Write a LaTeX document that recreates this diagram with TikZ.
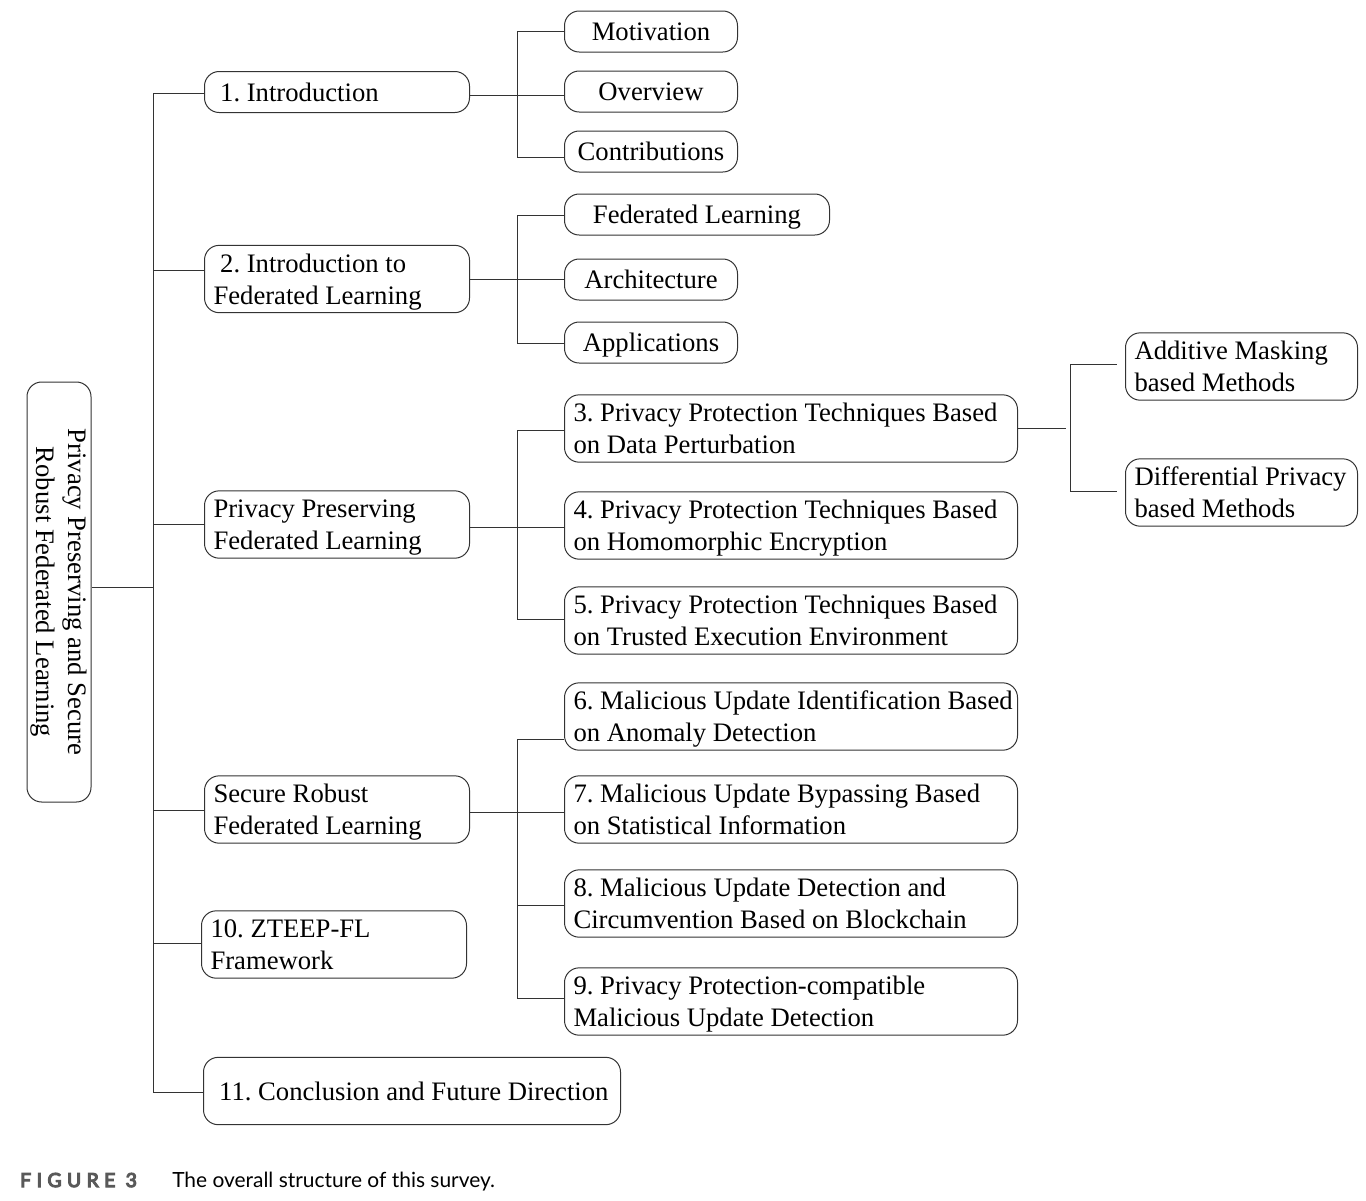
\documentclass[tikz,border=0pt]{standalone}
\usepackage{fontspec}
\setmainfont{Liberation Serif}
\newfontfamily\capfont{Lato}
\newfontfamily\caplabelfont[LetterSpace=28, FakeBold=6]{Lato}

\definecolor{linegray}{HTML}{333333}
\definecolor{capgray}{HTML}{595959}

% 行高支撑：使各框文字基线一致
\newcommand\boxstrut{\rule[-4.4pt]{0pt}{22.4pt}}

\tikzset{
  secbox/.style={draw=linegray, line width=0.75pt, rounded corners=11pt,
    anchor=west, align=left, inner xsep=6.75pt, inner ysep=0pt,
    font=\fontsize{20}{24}\selectfont,
    execute at begin node={\frenchspacing\spaceskip=5pt plus 1pt minus 0.5pt\boxstrut},
    execute at end node={\boxstrut}},
  onerow/.style={secbox, minimum height=30.75pt, text height=14pt, text depth=0pt},
  tworow/.style={secbox, minimum height=50.5pt},
  part/.style={tworow, text width=185.25pt},
  sub/.style={onerow, align=center, minimum width=129.75pt},
  tech/.style={tworow, text width=326.25pt},
  leaf/.style={tworow, text width=160.5pt},
  rootbox/.style={draw=linegray, line width=0.75pt, rounded corners=11pt,
    rotate=-90, align=center, inner sep=0pt, minimum width=315pt, minimum height=48pt,
    font=\fontsize{20}{24}\selectfont},
  link/.style={draw=linegray, line width=0.75pt},
}

\begin{document}
\begin{tikzpicture}[x=0.75pt, y=-0.75pt]
  % 画布按像素换算（1px = 0.75pt，y 向下）
  \useasboundingbox (0,0) rectangle (1366,1200);

  % 根节点（竖排文字）
  \node[rootbox] (root) at (59,592) {Privacy Preserving and Secure\\Robust Federated Learning};

  % 第一层章节
  \node[onerow, text width=185.25pt] (intro) at (204,92) {\hspace*{5pt}1. Introduction};
  \node[part] (flintro) at (204,279) {\hspace*{5pt}2. Introduction to\\Federated Learning};
  \node[part] (ppfl) at (204,524.5) {Privacy Preserving\\Federated Learning};
  \node[part] (srfl) at (204,809.5) {Secure Robust\\Federated Learning};
  \node[part] (zteep) at (201,944.5) {10. ZTEEP-FL\\Framework};
  \node[onerow, minimum height=50.5pt, text width=299.25pt] (concl) at (203,1091)
       {\mbox{\hspace*{5pt}11. Conclusion and Future Direction}};

  % 第二层：引言
  \node[sub] (motiv) at (564,31.5) {Motivation};
  \node[sub] (overview) at (564,91.5) {Overview};
  \node[sub] (contrib) at (564,151.5) {Contributions};

  % 第二层：联邦学习简介
  \node[sub, minimum width=198.75pt] (fl) at (564,214.5) {Federated Learning};
  \node[sub] (arch) at (564,279.5) {Architecture};
  \node[sub] (apps) at (564,342.5) {Applications};

  % 第二层：隐私保护
  \node[tech] (pert) at (564,428.5) {\mbox{3. Privacy Protection Techniques Based}\\on Data Perturbation};
  \node[tech] (homo) at (564,525.5) {\mbox{4. Privacy Protection Techniques Based}\\on Homomorphic Encryption};
  \node[tech] (tee) at (564,620.5) {\mbox{5. Privacy Protection Techniques Based}\\on Trusted Execution Environment};

  % 第二层：安全鲁棒
  \node[tech] (anom) at (564,716.5) {\mbox{6. Malicious Update Identification Based}\\on Anomaly Detection};
  \node[tech] (stat) at (564,809.5) {7. Malicious Update Bypassing Based\\on Statistical Information};
  \node[tech] (chain) at (564,903.5) {8. Malicious Update Detection and\\Circumvention Based on Blockchain};
  \node[tech] (compat) at (564,1001.5) {9. Privacy Protection-compatible\\Malicious Update Detection};

  % 第三层：数据扰动
  \node[leaf] (mask) at (1125,366.5) {\mbox{Additive Masking}\\based Methods};
  \node[leaf] (dp) at (1125,492.5) {\mbox{Differential Privacy}\\based Methods};

  % 主干竖线及分支
  \coordinate (t1) at (153,93);
  \coordinate (t0) at (153,587);
  \coordinate (t2) at (153,270);
  \coordinate (t3) at (153,524);
  \coordinate (t4) at (153,810);
  \coordinate (t5) at (153,943);
  \coordinate (t6) at (153,1092);
  \draw[link] (t1) -- (t6);
  \draw[link] (t0) -- (t0 -| root.north);
  \draw[link] (t1) -- (t1 -| intro.west);
  \draw[link] (t2) -- (t2 -| flintro.west);
  \draw[link] (t3) -- (t3 -| ppfl.west);
  \draw[link] (t4) -- (t4 -| srfl.west);
  \draw[link] (t5) -- (t5 -| zteep.west);
  \draw[link] (t6) -- (t6 -| concl.west);

  % 引言分支
  \coordinate (j1) at (517,95);
  \coordinate (b1top) at (517,31);
  \coordinate (b1bot) at (517,157);
  \draw[link] (j1 -| intro.east) -- (j1 -| overview.west);
  \draw[link] (b1top) -- (b1bot);
  \draw[link] (b1top) -- (b1top -| motiv.west);
  \draw[link] (b1bot) -- (b1bot -| contrib.west);

  % 联邦学习简介分支
  \coordinate (j2) at (517,279);
  \coordinate (b2top) at (517,215);
  \coordinate (b2bot) at (517,343);
  \draw[link] (j2 -| flintro.east) -- (j2 -| arch.west);
  \draw[link] (b2top) -- (b2bot);
  \draw[link] (b2top) -- (b2top -| fl.west);
  \draw[link] (b2bot) -- (b2bot -| apps.west);

  % 隐私保护分支
  \coordinate (j3) at (517,527);
  \coordinate (b3top) at (517,430);
  \coordinate (b3bot) at (517,619);
  \draw[link] (j3 -| ppfl.east) -- (j3 -| homo.west);
  \draw[link] (b3top) -- (b3bot);
  \draw[link] (b3top) -- (b3top -| pert.west);
  \draw[link] (b3bot) -- (b3bot -| tee.west);

  % 安全鲁棒分支
  \coordinate (j4) at (517,812);
  \coordinate (b4top) at (517,739);
  \coordinate (b4mid) at (517,905);
  \coordinate (b4bot) at (517,998);
  \draw[link] (j4 -| srfl.east) -- (j4 -| stat.west);
  \draw[link] (b4top) -- (b4bot);
  \draw[link] (b4top) -- (b4top -| anom.west);
  \draw[link] (b4mid) -- (b4mid -| chain.west);
  \draw[link] (b4bot) -- (b4bot -| compat.west);

  % 数据扰动的细分
  \coordinate (j5) at (1066,428);
  \coordinate (b5top) at (1070,364);
  \coordinate (b5bot) at (1070,491);
  \coordinate (m1) at (1117,364);
  \coordinate (m2) at (1117,491);
  \draw[link] (j5 -| pert.east) -- (j5);
  \draw[link] (b5top) -- (b5bot);
  \draw[link] (b5top) -- (m1);
  \draw[link] (b5bot) -- (m2);

  % 图题
  \node[anchor=base west, inner sep=0pt, text=capgray,
        font=\caplabelfont\fontsize{14.5}{16}\selectfont] (figno) at (20,1187) {FIGURE 3};
  \node[anchor=base west, inner sep=0pt,
        font=\capfont\fontsize{15.7}{18}\selectfont] (figcap) at (172,1187) {The overall structure of this survey.};
\end{tikzpicture}
\end{document}
